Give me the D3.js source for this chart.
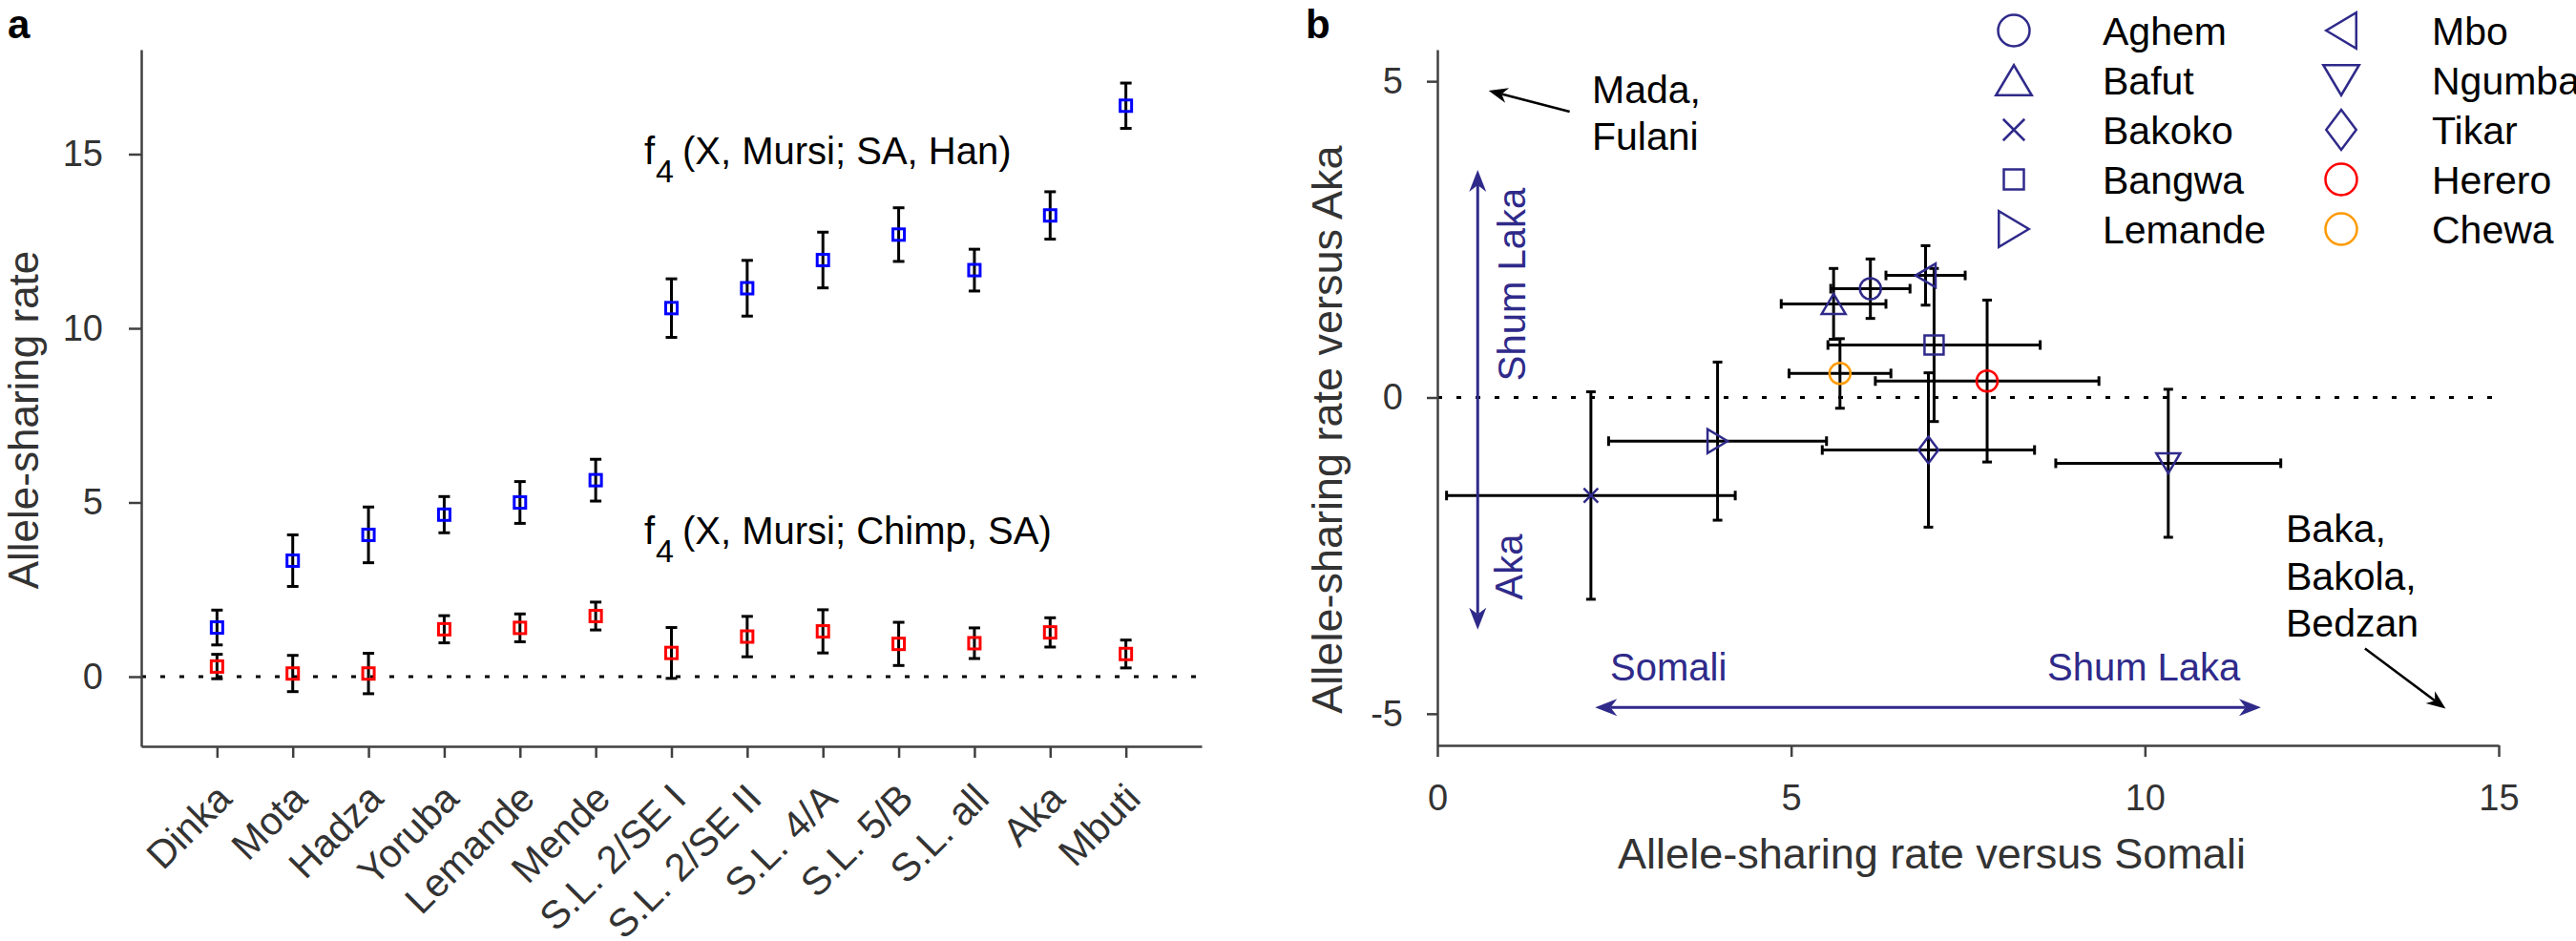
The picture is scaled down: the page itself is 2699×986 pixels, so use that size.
<!DOCTYPE html>
<html>
<head>
<meta charset="utf-8">
<script src="https://cdn.jsdelivr.net/npm/d3@7"></script>
<style>
  body { margin: 0; background: #fff; }
  text { font-family: "Liberation Sans", Arial, sans-serif; }
</style>
</head>
<body>
<svg id="chart"></svg>
<script>
// ---- panel a data ----
var categories = ["Dinka", "Mota", "Hadza", "Yoruba", "Lemande", "Mende", "S.L. 2/SE I", "S.L. 2/SE II", "S.L. 4/A", "S.L. 5/B", "S.L. all", "Aka", "Mbuti"]
var hanValues = [1.41, 3.33, 4.07, 4.65, 5.0, 5.64, 10.58, 11.15, 11.96, 12.69, 11.67, 13.24, 16.39]
var hanErrors = [0.5, 0.74, 0.8, 0.52, 0.6, 0.6, 0.84, 0.8, 0.8, 0.77, 0.6, 0.68, 0.65]
var chimpValues = [0.29, 0.09, 0.09, 1.36, 1.4, 1.74, 0.68, 1.15, 1.3, 0.94, 0.96, 1.27, 0.65]
var chimpErrors = [0.35, 0.52, 0.58, 0.39, 0.4, 0.4, 0.73, 0.58, 0.62, 0.62, 0.44, 0.42, 0.4]
var yTicksA = [0, 5, 10, 15]

// ---- panel b data ----
var populations = ["Aghem", "Bafut", "Bakoko", "Bangwa", "Lemande", "Mbo", "Ngumba", "Tikar", "Herero", "Chewa"]
var somaliRates = [6.12, 5.6, 2.17, 7.02, 3.96, 6.9, 10.33, 6.94, 7.77, 5.69]
var somaliErrors = [0.56, 0.74, 2.04, 1.5, 1.54, 0.56, 1.59, 1.5, 1.58, 0.72]
var akaRates = [1.72, 1.48, -1.55, 0.83, -0.69, 1.93, -1.04, -0.83, 0.26, 0.38]
var akaErrors = [0.47, 0.56, 1.64, 1.21, 1.25, 0.47, 1.17, 1.22, 1.28, 0.55]
var xTicksB = [0, 5, 10, 15]
var yTicksB = [-5, 0, 5]

// annotation arrows, in data units of panel b
var arrowShumLakaV = [[0.57, 3.6], [0.57, -3.67]]
var arrowShumLakaH = [[2.23, -4.9], [11.64, -4.9]]
var arrowMada = [[1.87, 4.52], [0.725, 4.85]]
var arrowBaka = [[13.11, -3.97], [14.25, -4.92]]

var FONT = "'Liberation Sans', Arial, sans-serif"
var INDIGO = "#2f2a8a"
var popStyle = {
    "Aghem": { shape: "circle", color: INDIGO },
    "Bafut": { shape: "up", color: INDIGO },
    "Bakoko": { shape: "x", color: INDIGO },
    "Bangwa": { shape: "square", color: INDIGO },
    "Lemande": { shape: "right", color: INDIGO },
    "Mbo": { shape: "left", color: INDIGO },
    "Ngumba": { shape: "down", color: INDIGO },
    "Tikar": { shape: "diamond", color: INDIGO },
    "Herero": { shape: "circle", color: "#ff0000" },
    "Chewa": { shape: "circle", color: "#ff9a00" }
}
var markerSize = {
    circle: [22, 22], square: [20, 20], up: [25, 21], down: [25, 21],
    right: [21, 25], left: [21, 25], diamond: [21, 28], x: [15, 15]
}

function markerPath(shape, w, h) {
    var hw = w / 2, hh = h / 2
    switch (shape) {
        case "circle": return `M${-hw},0A${hw},${hh} 0 1,0 ${hw},0A${hw},${hh} 0 1,0 ${-hw},0Z`
        case "square": return `M${-hw},${-hh}H${hw}V${hh}H${-hw}Z`
        case "up": return `M0,${-hh}L${hw},${hh}L${-hw},${hh}Z`
        case "down": return `M0,${hh}L${hw},${-hh}L${-hw},${-hh}Z`
        case "right": return `M${hw},0L${-hw},${hh}L${-hw},${-hh}Z`
        case "left": return `M${-hw},0L${hw},${hh}L${hw},${-hh}Z`
        case "diamond": return `M0,${-hh}L${hw},0L0,${hh}L${-hw},0Z`
        case "x": return `M${-hw},${-hh}L${hw},${hh}M${-hw},${hh}L${hw},${-hh}`
    }
}

// arrow with filled notched head(s)
function drawArrow(g, p0, p1, color, width, headLen, headHalf, both) {
    var dx = p1[0] - p0[0], dy = p1[1] - p0[1]
    var d = Math.hypot(dx, dy), ux = dx / d, uy = dy / d
    var notch = headLen * 0.3
    var s0 = both ? [p0[0] + ux * (headLen - notch), p0[1] + uy * (headLen - notch)] : p0
    var s1 = [p1[0] - ux * (headLen - notch), p1[1] - uy * (headLen - notch)]
    g.append("line")
        .attr("x1", s0[0]).attr("y1", s0[1])
        .attr("x2", s1[0]).attr("y2", s1[1])
        .attr("stroke", color)
        .attr("stroke-width", width)
    var head = function (tip, vx, vy) {
        var bx = tip[0] - vx * headLen, by = tip[1] - vy * headLen
        var mx = -vy, my = vx
        return `M${tip[0]},${tip[1]}L${bx + mx * headHalf},${by + my * headHalf}` +
            `L${tip[0] - vx * (headLen - notch)},${tip[1] - vy * (headLen - notch)}` +
            `L${bx - mx * headHalf},${by - my * headHalf}Z`
    }
    g.append("path").attr("d", head(p1, ux, uy)).attr("fill", color)
    if (both) {
        g.append("path").attr("d", head(p0, -ux, -uy)).attr("fill", color)
    }
}

function styleAxis(g) {
    g.attr("font-family", FONT).attr("font-size", 38)
    g.select(".domain").attr("stroke", "#404040").attr("stroke-width", 2.5)
    g.selectAll(".tick line").attr("stroke", "#404040").attr("stroke-width", 2.5)
    g.selectAll(".tick text").attr("fill", "#333")
}

var svg = d3.select("#chart")
    .attr("width", 2699)
    .attr("height", 986)
    .style("background", "#fff")

// ================= panel a =================
var dimsA = { left: 148, right: 1259, top: 52, bottom: 782 }

var xScaleA = d3.scaleLinear()
    .domain([0, categories.length + 1])
    .range([dimsA.left, dimsA.right])

var yScaleA = d3.scaleLinear()
    .domain([-2, 18])
    .range([dimsA.bottom, dimsA.top])

svg.append("line")
    .attr("x1", dimsA.left)
    .attr("x2", dimsA.right)
    .attr("y1", yScaleA(0))
    .attr("y2", yScaleA(0))
    .attr("stroke", "#000")
    .attr("stroke-width", 3)
    .attr("stroke-dasharray", "5,15")

var seriesA = [
    { values: hanValues, errors: hanErrors, color: "#0000ff" },
    { values: chimpValues, errors: chimpErrors, color: "#ff0000" }
]

seriesA.forEach(function (s) {
    var g = svg.append("g")
    var pts = g.selectAll("g")
        .data(s.values)
        .enter()
        .append("g")
        .attr("transform", (d, i) => "translate(" + xScaleA(i + 1) + ",0)")

    pts.append("line")
        .attr("y1", (d, i) => yScaleA(d - s.errors[i]))
        .attr("y2", (d, i) => yScaleA(d + s.errors[i]))
        .attr("stroke", "#000")
        .attr("stroke-width", 3)
    pts.append("line")
        .attr("x1", -6).attr("x2", 6)
        .attr("y1", (d, i) => yScaleA(d - s.errors[i]))
        .attr("y2", (d, i) => yScaleA(d - s.errors[i]))
        .attr("stroke", "#000")
        .attr("stroke-width", 3)
    pts.append("line")
        .attr("x1", -6).attr("x2", 6)
        .attr("y1", (d, i) => yScaleA(d + s.errors[i]))
        .attr("y2", (d, i) => yScaleA(d + s.errors[i]))
        .attr("stroke", "#000")
        .attr("stroke-width", 3)
    pts.append("rect")
        .attr("x", -6)
        .attr("y", d => yScaleA(d) - 6)
        .attr("width", 12)
        .attr("height", 12)
        .attr("fill", "none")
        .attr("stroke", s.color)
        .attr("stroke-width", 3)
})

var yAxisA = d3.axisLeft(yScaleA)
    .tickValues(yTicksA)
    .tickSize(13)
    .tickSizeOuter(0)
    .tickPadding(27)

svg.append("g")
    .attr("transform", "translate(" + dimsA.left + ",0)")
    .call(yAxisA)
    .call(styleAxis)

var xAxisA = d3.axisBottom(xScaleA)
    .tickValues(d3.range(1, categories.length + 1))
    .tickFormat(d => categories[d - 1])
    .tickSize(12)
    .tickSizeOuter(0)

svg.append("g")
    .attr("transform", "translate(0," + dimsA.bottom + ")")
    .call(xAxisA)
    .call(styleAxis)
    .selectAll(".tick text")
    .attr("x", 0)
    .attr("y", 0)
    .attr("dy", 0)
    .attr("font-size", 41)
    .style("text-anchor", "end")
    .attr("transform", "translate(17,57) rotate(-45)")

svg.append("text")
    .attr("transform", "translate(40,440) rotate(-90)")
    .attr("text-anchor", "middle")
    .attr("font-size", 44)
    .attr("fill", "#333")
    .text("Allele-sharing rate")

function f4Label(x, y, rest) {
    var t = svg.append("text")
        .attr("x", x)
        .attr("y", y)
        .attr("font-size", 40)
        .attr("fill", "#000")
    t.append("tspan").text("f")
    t.append("tspan").attr("x", x + 12).attr("dy", 19).attr("font-size", 34).text("4")
    t.append("tspan").attr("x", x + 40).attr("dy", -19).text(rest)
}
f4Label(675, 172, "(X, Mursi; SA, Han)")
f4Label(675, 570, "(X, Mursi; Chimp, SA)")

svg.append("text")
    .attr("x", 8)
    .attr("y", 40)
    .attr("font-size", 42)
    .attr("font-weight", "bold")
    .text("a")

// ================= panel b =================
var dimsB = { left: 1506, right: 2618, top: 52, bottom: 781 }

var xScaleB = d3.scaleLinear()
    .domain([0, 15])
    .range([dimsB.left, dimsB.right])

var yScaleB = d3.scaleLinear()
    .domain([-5.5, 5.5])
    .range([dimsB.bottom, dimsB.top])

svg.append("line")
    .attr("x1", dimsB.left)
    .attr("x2", dimsB.right)
    .attr("y1", yScaleB(0))
    .attr("y2", yScaleB(0))
    .attr("stroke", "#000")
    .attr("stroke-width", 3)
    .attr("stroke-dasharray", "5,15")

var gB = svg.append("g")
var popPts = gB.selectAll("g")
    .data(populations)
    .enter()
    .append("g")

// error bars in both directions
popPts.each(function (p, i) {
    var g = d3.select(this)
    var cx = xScaleB(somaliRates[i]), cy = yScaleB(akaRates[i])
    var xl = xScaleB(somaliRates[i] - somaliErrors[i]), xr = xScaleB(somaliRates[i] + somaliErrors[i])
    var yt = yScaleB(akaRates[i] + akaErrors[i]), yb = yScaleB(akaRates[i] - akaErrors[i])
    var bar = function (x1, y1, x2, y2) {
        g.append("line")
            .attr("x1", x1).attr("y1", y1)
            .attr("x2", x2).attr("y2", y2)
            .attr("stroke", "#000")
            .attr("stroke-width", 3)
    }
    bar(xl, cy, xr, cy)
    bar(xl, cy - 5, xl, cy + 5)
    bar(xr, cy - 5, xr, cy + 5)
    bar(cx, yt, cx, yb)
    bar(cx - 5, yt, cx + 5, yt)
    bar(cx - 5, yb, cx + 5, yb)
})

popPts.append("path")
    .attr("transform", (p, i) => "translate(" + xScaleB(somaliRates[i]) + "," + yScaleB(akaRates[i]) + ")")
    .attr("d", p => markerPath(popStyle[p].shape, markerSize[popStyle[p].shape][0], markerSize[popStyle[p].shape][1]))
    .attr("fill", "none")
    .attr("stroke", p => popStyle[p].color)
    .attr("stroke-width", 2.5)

var yAxisB = d3.axisLeft(yScaleB)
    .tickValues(yTicksB)
    .tickFormat(d => String(d))
    .tickSize(11)
    .tickSizeOuter(0)
    .tickPadding(25)

svg.append("g")
    .attr("transform", "translate(" + dimsB.left + ",0)")
    .call(yAxisB)
    .call(styleAxis)

var xAxisB = d3.axisBottom(xScaleB)
    .tickValues(xTicksB)
    .tickSize(12)
    .tickSizeOuter(0)
    .tickPadding(29)

svg.append("g")
    .attr("transform", "translate(0," + dimsB.bottom + ")")
    .call(xAxisB)
    .call(styleAxis)

svg.append("text")
    .attr("x", 2024)
    .attr("y", 910)
    .attr("text-anchor", "middle")
    .attr("font-size", 45)
    .attr("fill", "#333")
    .text("Allele-sharing rate versus Somali")

svg.append("text")
    .attr("transform", "translate(1406,450) rotate(-90)")
    .attr("text-anchor", "middle")
    .attr("font-size", 45)
    .attr("fill", "#333")
    .text("Allele-sharing rate versus Aka")

svg.append("text")
    .attr("x", 1368)
    .attr("y", 40)
    .attr("font-size", 42)
    .attr("font-weight", "bold")
    .text("b")

// arrows and labels
var toPx = d => [xScaleB(d[0]), yScaleB(d[1])]
var gArrows = svg.append("g")
drawArrow(gArrows, toPx(arrowShumLakaV[0]), toPx(arrowShumLakaV[1]), INDIGO, 3, 23, 9, true)
drawArrow(gArrows, toPx(arrowShumLakaH[0]), toPx(arrowShumLakaH[1]), INDIGO, 3, 23, 9, true)
drawArrow(gArrows, toPx(arrowMada[0]), toPx(arrowMada[1]), "#000", 2.5, 20, 8, false)
drawArrow(gArrows, toPx(arrowBaka[0]), toPx(arrowBaka[1]), "#000", 2.5, 20, 8, false)

svg.append("text")
    .attr("transform", "translate(1598,298) rotate(-90)")
    .attr("text-anchor", "middle")
    .attr("font-size", 40)
    .attr("fill", INDIGO)
    .text("Shum Laka")
svg.append("text")
    .attr("transform", "translate(1595,594) rotate(-90)")
    .attr("text-anchor", "middle")
    .attr("font-size", 40)
    .attr("fill", INDIGO)
    .text("Aka")
svg.append("text")
    .attr("x", 1687).attr("y", 713)
    .attr("font-size", 40)
    .attr("fill", INDIGO)
    .text("Somali")
svg.append("text")
    .attr("x", 2145).attr("y", 713)
    .attr("font-size", 40)
    .attr("fill", INDIGO)
    .text("Shum Laka")

var madaLines = ["Mada,", "Fulani"]
madaLines.forEach(function (t, i) {
    svg.append("text")
        .attr("x", 1668).attr("y", 108 + i * 49)
        .attr("font-size", 41)
        .attr("fill", "#000")
        .text(t)
})
var bakaLines = ["Baka,", "Bakola,", "Bedzan"]
bakaLines.forEach(function (t, i) {
    svg.append("text")
        .attr("x", 2395).attr("y", 568 + i * 49.5)
        .attr("font-size", 41)
        .attr("fill", "#000")
        .text(t)
})

// legend
var legend = svg.append("g")
var legendItems = legend.selectAll("g")
    .data(populations)
    .enter()
    .append("g")
    .attr("transform", (p, i) => "translate(" + (i < 5 ? 2110 : 2453) + "," + (32 + (i % 5) * 52) + ")")

legendItems.append("path")
    .attr("d", function (p) {
        var sh = popStyle[p].shape
        var k = sh === "square" ? 1.05 : 1.5
        return markerPath(sh, markerSize[sh][0] * k, markerSize[sh][1] * k)
    })
    .attr("fill", "none")
    .attr("stroke", p => popStyle[p].color)
    .attr("stroke-width", 2.5)

legendItems.append("text")
    .attr("x", (p, i) => i < 5 ? 93 : 95)
    .attr("y", 15)
    .attr("font-size", 41)
    .attr("fill", "#000")
    .text(p => p)
</script>
</body>
</html>
